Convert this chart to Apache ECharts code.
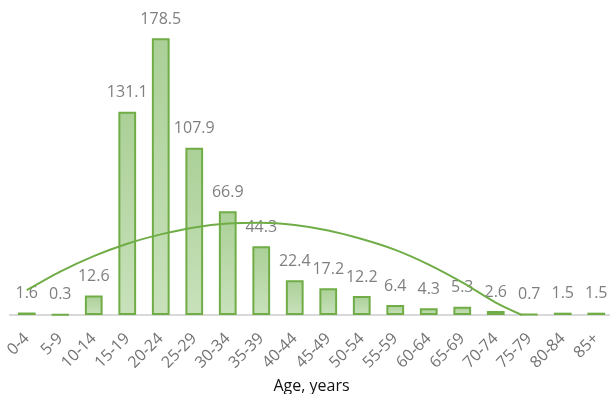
<!DOCTYPE html>
<html>
<head>
<meta charset="utf-8">
<script src="https://cdn.jsdelivr.net/npm/echarts@6/dist/echarts.min.js"></script>
<style>
  html, body { margin: 0; padding: 0; background: #fff; }
  #chart { width: 610px; height: 394px; }
</style>
</head>
<body>
<div id="chart"></div>
<script>
// age groups and rates
var ageGroups = ['0-4','5-9','10-14','15-19','20-24','25-29','30-34','35-39','40-44',
                 '45-49','50-54','55-59','60-64','65-69','70-74','75-79','80-84','85+'];
var rates = [1.6, 0.3, 12.6, 131.1, 178.5, 107.9, 66.9, 44.3, 22.4,
             17.2, 12.2, 6.4, 4.3, 5.3, 2.6, 0.7, 1.5, 1.5];
// trend line: [category position, value]
var trendX = [0, 1, 2, 3, 4, 5, 6, 7, 8, 9, 10, 11, 12, 13, 14, 14.78];
var trendY = [16, 28, 38, 46, 52, 56.5, 59, 59.5, 58, 54.5, 49, 42, 32.5, 21, 8, 0];

var trendData = [];
for (var i = 0; i < trendX.length; i++) {
  trendData.push([trendX[i], trendY[i]]);
}

var green = '#70ad47';
var font = 'Open Sans';

var myChart = echarts.init(document.getElementById('chart'));
var option = {
  animation: false,
  grid: {
    left: 10, width: 603, top: 5, bottom: 79,
    containLabel: false, outerBoundsMode: 'none'
  },
  xAxis: [
    {
      type: 'category',
      data: ageGroups,
      boundaryGap: true,
      axisLine: { lineStyle: { color: '#d9d9d9', width: 2 } },
      axisTick: { show: false },
      axisLabel: {
        rotate: 45, interval: 0, color: '#737373',
        fontFamily: font, fontSize: 16, margin: 21
      },
      name: 'Age, years',
      nameLocation: 'middle',
      nameGap: 57,
      nameTextStyle: { color: '#111', fontFamily: font, fontSize: 16 }
    },
    {
      type: 'value', min: -0.5, max: 17.5, show: false
    }
  ],
  yAxis: {
    type: 'value', min: 0, max: 200, show: false,
    splitLine: { show: false }
  },
  series: [
    {
      type: 'bar',
      data: rates,
      barWidth: '53%',
      itemStyle: {
        color: new echarts.graphic.LinearGradient(0, 0, 0, 1, [
          { offset: 0, color: '#abd097' },
          { offset: 1, color: '#c8e1bb' }
        ]),
        borderColor: green,
        borderWidth: 2
      },
      label: {
        show: true, position: 'top', distance: 11,
        color: '#7f7f7f', fontFamily: font, fontSize: 16
      }
    },
    {
      type: 'line',
      xAxisIndex: 1,
      data: trendData,
      smooth: 0.3,
      showSymbol: false,
      z: 5,
      lineStyle: { color: green, width: 2 }
    }
  ]
};
myChart.setOption(option);
</script>
</body>
</html>
